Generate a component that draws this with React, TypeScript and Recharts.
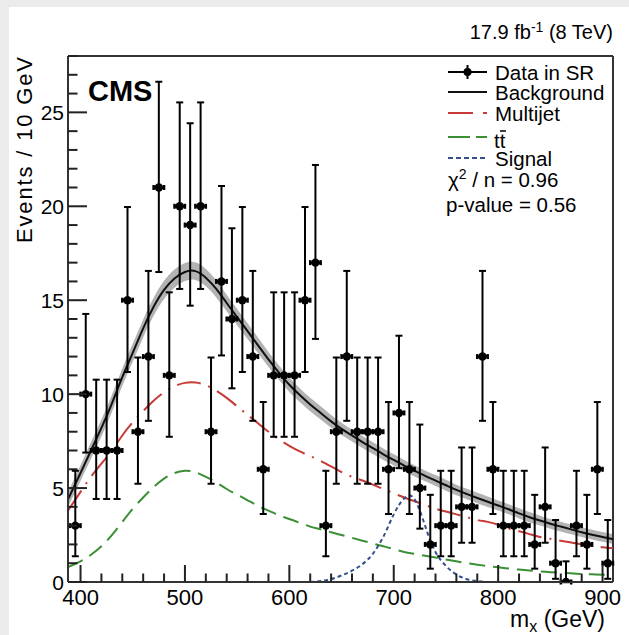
import React from "react";
import { ComposedChart, Area, Line, Scatter, ErrorBar, XAxis, YAxis, ReferenceLine } from "recharts";

// data in the signal region, 10 GeV bins
const binCenters = [
  395, 405, 415, 425, 435, 445, 455, 465, 475, 485,
  495, 505, 515, 525, 535, 545, 555, 565, 575, 585,
  595, 605, 615, 625, 635, 645, 655, 665, 675, 685,
  695, 705, 715, 725, 735, 745, 755, 765, 775, 785,
  795, 805, 815, 825, 835, 845, 855, 865, 875, 885,
  895, 905,
];
const events = [
  3, 10, 7, 7, 7, 15, 8, 12, 21, 11,
  20, 19, 20, 8, 16, 14, 15, 12, 6, 11,
  11, 11, 15, 17, 3, 8, 12, 8, 8, 8,
  6, 9, 6, 5, 2, 3, 3, 4, 4, 12,
  6, 3, 3, 3, 2, 4, 1, 0, 3, 2,
  6, 1,
];
const errDown = [
  1.63, 3.11, 2.58, 2.58, 2.58, 3.82, 2.77, 3.42, 4.5, 3.27,
  4.4, 4.29, 4.4, 2.77, 3.94, 3.69, 3.82, 3.42, 2.38, 3.27,
  3.27, 3.27, 3.82, 4.06, 1.63, 2.77, 3.42, 2.77, 2.77, 2.77,
  2.38, 2.94, 2.38, 2.16, 1.29, 1.63, 1.63, 1.91, 1.91, 3.42,
  2.38, 1.63, 1.63, 1.63, 1.29, 1.91, 0.83, 0, 1.63, 1.29,
  2.38, 0.83,
];
const errUp = [
  2.92, 4.27, 3.77, 3.77, 3.77, 4.96, 3.95, 4.56, 5.63, 4.42,
  5.53, 5.42, 5.53, 3.95, 5.08, 4.83, 4.96, 4.56, 3.58, 4.42,
  4.42, 4.42, 4.96, 5.2, 2.92, 3.95, 4.56, 3.95, 3.95, 3.95,
  3.58, 4.11, 3.58, 3.38, 2.64, 2.92, 2.92, 3.16, 3.16, 4.56,
  3.58, 2.92, 2.92, 2.92, 2.64, 3.16, 2.3, 1.1, 2.92, 2.64,
  3.58, 2.3,
];
const binHalfWidth = 5;

// fit curves
const curveX = [
  388, 400, 410, 420, 430, 440, 450, 460, 470, 480,
  490, 500, 510, 520, 530, 540, 550, 560, 570, 580,
  590, 600, 610, 620, 630, 640, 650, 660, 670, 680,
  690, 700, 710, 720, 730, 740, 750, 760, 770, 780,
  790, 800, 810, 820, 830, 840, 850, 860, 870, 880,
  890, 900, 910,
];
const background = [
  4.4, 5.8, 7.0, 8.2, 9.5, 10.9, 12.2, 13.5, 14.65, 15.55,
  16.15, 16.5, 16.55, 16.2, 15.6, 14.85, 14.1, 13.35, 12.6, 11.85,
  11.15, 10.5, 9.95, 9.45, 9.0, 8.55, 8.15, 7.8, 7.45, 7.13,
  6.8, 6.5, 6.2, 5.92, 5.65, 5.4, 5.15, 4.9, 4.68, 4.47,
  4.27, 4.07, 3.87, 3.65, 3.45, 3.27, 3.1, 2.95, 2.8, 2.65,
  2.52, 2.4, 2.28,
];
const bkgUnc = [
  0.4, 0.42, 0.44, 0.45, 0.46, 0.47, 0.48, 0.48, 0.48, 0.48,
  0.48, 0.48, 0.47, 0.46, 0.45, 0.44, 0.43, 0.42, 0.41, 0.4,
  0.39, 0.38, 0.37, 0.36, 0.35, 0.34, 0.33, 0.32, 0.32, 0.31,
  0.31, 0.3, 0.3, 0.3, 0.29, 0.29, 0.29, 0.28, 0.28, 0.28,
  0.28, 0.27, 0.27, 0.27, 0.27, 0.26, 0.26, 0.26, 0.26, 0.26,
  0.26, 0.26, 0.26,
];
const multijet = [
  3.8, 4.8, 5.6, 6.3, 7.0, 7.8, 8.5, 9.1, 9.65, 10.1,
  10.42, 10.6, 10.62, 10.48, 10.18, 9.8, 9.35, 8.9, 8.45, 8.0,
  7.6, 7.25, 6.95, 6.7, 6.45, 6.15, 5.85, 5.6, 5.4, 5.18,
  4.95, 4.72, 4.5, 4.3, 4.1, 3.9, 3.75, 3.6, 3.45, 3.3,
  3.2, 3.05, 2.85, 2.7, 2.55, 2.4, 2.3, 2.2, 2.1, 2.0,
  1.92, 1.85, 1.8,
];
const ttbar = [
  0.8, 1.1, 1.45, 1.9, 2.5, 3.2, 3.9, 4.5, 5.05, 5.5,
  5.8, 5.92, 5.85, 5.6, 5.3, 4.95, 4.65, 4.35, 4.05, 3.8,
  3.55, 3.35, 3.15, 2.95, 2.8, 2.65, 2.5, 2.35, 2.2, 2.05,
  1.9, 1.75, 1.6, 1.5, 1.4, 1.3, 1.2, 1.1, 1.0, 0.92,
  0.85, 0.78, 0.72, 0.66, 0.61, 0.56, 0.52, 0.49, 0.46, 0.43,
  0.41, 0.39, 0.38,
];
const signalX = [620, 630, 640, 650, 660, 670, 680, 690, 700, 705, 710, 715, 720, 725, 730, 735, 740, 750, 760, 770, 780, 790];
const signalY = [0, 0.05, 0.15, 0.35, 0.6, 0.95, 1.5, 2.4, 3.6, 4.1, 4.45, 4.6, 4.4, 3.8, 3.0, 2.2, 1.6, 0.85, 0.4, 0.15, 0.05, 0];

const xTicks = [400, 420, 440, 460, 480, 500, 520, 540, 560, 580, 600, 620, 640, 660, 680, 700, 720, 740, 760, 780, 800, 820, 840, 860, 880, 900];
const yTicks = [0, 1, 2, 3, 4, 5, 6, 7, 8, 9, 10, 11, 12, 13, 14, 15, 16, 17, 18, 19, 20, 21, 22, 23, 24, 25, 26, 27, 28];

const curves = curveX.map((x, i) => ({
  x,
  bkg: background[i],
  band: [background[i] - bkgUnc[i], background[i] + bkgUnc[i]],
  mj: multijet[i],
  tt: ttbar[i],
}));
const signal = signalX.map((x, i) => ({ x, sig: signalY[i] }));
const points = binCenters.map((x, i) => ({
  x,
  y: events[i],
  ey: [errDown[i], errUp[i]],
  ex: binHalfWidth,
}));

const FONT = "'Liberation Sans', Arial, Helvetica, sans-serif";
const RED = "#c73a35";
const GREEN = "#3b8f34";
const BLUE = "#34508e";

const YTick = (props: any) => {
  const { x, y, payload } = props;
  const v = payload.value;
  const major = v % 5 === 0;
  return (
    <g>
      <line x1={x} y1={y} x2={x + (major ? 19 : 9.5)} y2={y} stroke="#222" strokeWidth={2} />
      {major && (
        <text x={x - 4} y={y} dy="0.36em" textAnchor="end" fontSize={21} fontFamily={FONT} fill="#000">
          {v}
        </text>
      )}
    </g>
  );
};

const XTick = (props: any) => {
  const { x, y, payload } = props;
  const v = payload.value;
  const major = v % 100 === 0;
  return (
    <g>
      <line x1={x} y1={y} x2={x} y2={y - (major ? 17 : 8.5)} stroke="#222" strokeWidth={2} />
      {major && (
        <text x={x} y={y + 22.5} textAnchor="middle" fontSize={22} fontFamily={FONT} fill="#000">
          {v}
        </text>
      )}
    </g>
  );
};

const DataShape = (props: any) => <circle cx={props.cx} cy={props.cy} r={4.2} fill="#000" />;

export default function App() {
  return (
    <div style={{ position: "absolute", left: 0, top: 0, width: 629, height: 635, background: "#ebebeb" }}>
      <div style={{ position: "absolute", left: 9, top: 7, width: 620, height: 628, background: "#fff" }} />
      <div style={{ position: "absolute", left: 0, top: 0 }}>
        <ComposedChart width={629} height={635} data={curves} margin={{ top: 56, right: 16, bottom: 0, left: 0 }}>
          <XAxis
            dataKey="x"
            type="number"
            domain={[388, 910]}
            allowDataOverflow
            ticks={xTicks}
            interval={0}
            tick={<XTick />}
            tickLine={false}
            tickSize={0}
            tickMargin={0}
            height={53}
            axisLine={{ stroke: "#333", strokeWidth: 2 }}
          />
          <YAxis
            type="number"
            domain={[0, 28]}
            allowDataOverflow
            ticks={yTicks}
            interval={0}
            tick={<YTick />}
            tickLine={false}
            tickSize={0}
            tickMargin={0}
            width={68}
            axisLine={{ stroke: "#333", strokeWidth: 2 }}
          />
          <ReferenceLine y={28} stroke="#333" strokeWidth={2} />
          <ReferenceLine x={910} stroke="#333" strokeWidth={2} />
          <Area dataKey="band" type="natural" fill="#9a9a9a" fillOpacity={0.75} stroke="none" isAnimationActive={false} activeDot={false} />
          <Line dataKey="tt" type="natural" stroke={GREEN} strokeWidth={2} strokeDasharray="16 8" dot={false} activeDot={false} isAnimationActive={false} />
          <Line dataKey="mj" type="natural" stroke={RED} strokeWidth={2} strokeDasharray="24 8 2 8" dot={false} activeDot={false} isAnimationActive={false} />
          <Line data={signal} dataKey="sig" type="monotone" stroke={BLUE} strokeWidth={2} strokeDasharray="4 3" dot={false} activeDot={false} isAnimationActive={false} />
          <Line dataKey="bkg" type="natural" stroke="#111" strokeWidth={2} dot={false} activeDot={false} isAnimationActive={false} />
          <Scatter data={points} dataKey="y" fill="#000" shape={<DataShape />} isAnimationActive={false}>
            <ErrorBar dataKey="ey" direction="y" width={3.5} stroke="#000" strokeWidth={2} />
            <ErrorBar dataKey="ex" direction="x" width={2.5} stroke="#000" strokeWidth={2.5} />
          </Scatter>
        </ComposedChart>
      </div>
      <svg width={629} height={635} style={{ position: "absolute", left: 0, top: 0, pointerEvents: "none" }} fontFamily={FONT}>
        <text x={613} y={38.5} textAnchor="end" fontSize={20} fill="#000">
          17.9 fb<tspan dy={-7} fontSize={14}>-1</tspan>
          <tspan dy={7}> (8 TeV)</tspan>
        </text>
        <text x={88} y={100.7} fontSize={29} fontWeight="bold" fill="#000">CMS</text>
        <text transform="rotate(-90)" x={-57} y={32} textAnchor="end" fontSize={22} textLength={186} lengthAdjust="spacing" fill="#000">
          Events / 10 GeV
        </text>
        <text x={605} y={627} textAnchor="end" fontSize={23} fill="#000">
          m<tspan dy={5} fontSize={16}>x</tspan>
          <tspan dy={-5}> (GeV)</tspan>
        </text>
        {/* legend */}
        <line x1={448} y1={72} x2={487} y2={72} stroke="#000" strokeWidth={2} />
        <line x1={467.5} y1={65} x2={467.5} y2={79} stroke="#000" strokeWidth={2} />
        <circle cx={467.5} cy={72} r={4} fill="#000" />
        <text x={495} y={79.5} fontSize={20.5} fill="#000">Data in SR</text>
        <line x1={448} y1={92} x2={487} y2={92} stroke="#111" strokeWidth={2} />
        <text x={495} y={99.5} fontSize={20.5} fill="#000">Background</text>
        <line x1={448} y1={113} x2={487} y2={113} stroke={RED} strokeWidth={2} strokeDasharray="25 10 4 40" />
        <text x={495} y={120.5} fontSize={20.5} fill="#000">Multijet</text>
        <line x1={448} y1={137} x2={487} y2={137} stroke={GREEN} strokeWidth={2} strokeDasharray="22 6 11 40" />
        <text x={494} y={148} fontSize={20.5} fill="#000">tt</text>
        <line x1={500} y1={131} x2={506} y2={131} stroke="#000" strokeWidth={1.5} />
        <line x1={448} y1={158} x2={487} y2={158} stroke={BLUE} strokeWidth={2} strokeDasharray="5 3" />
        <text x={495} y={166} fontSize={20.5} fill="#000">Signal</text>
        <text x={448} y={186.5} fontSize={20.5} fill="#000">
          χ<tspan dy={-8} fontSize={14}>2</tspan>
          <tspan dy={8}> / n = 0.96</tspan>
        </text>
        <text x={446} y={212} fontSize={20.5} fill="#000">p-value = 0.56</text>
      </svg>
    </div>
  );
}
